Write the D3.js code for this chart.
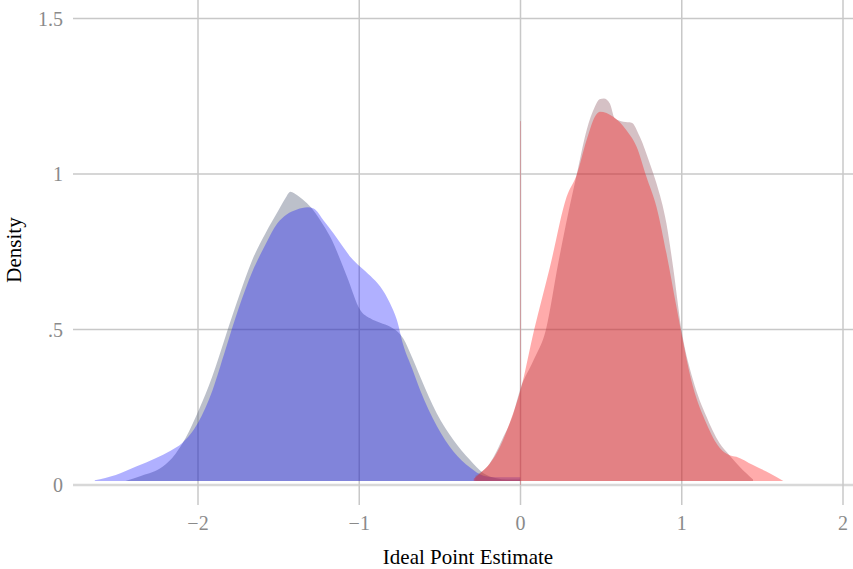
<!DOCTYPE html>
<html>
<head>
<meta charset="utf-8">
<script src="https://cdn.jsdelivr.net/npm/d3@7"></script>
<style>
  body { margin: 0; background: #fff; }
  text { font-family: "Liberation Serif", "Times New Roman", serif; }
</style>
</head>
<body>
<div id="chart"></div>
<script>
// density estimates
const demAllX = [-2.45, -2.35, -2.22, -2.14, -2.077, -1.995, -1.912, -1.83, -1.747, -1.664, -1.582, -1.5, -1.458, -1.427, -1.38, -1.324, -1.30, -1.24, -1.18, -1.076, -0.994, -0.932, -0.87, -0.808, -0.726, -0.672, -0.622, -0.519, -0.416, -0.313, -0.23, -0.15, -0.08, 0];
const demAllY = [0.013, 0.03, 0.059, 0.1, 0.151, 0.241, 0.348, 0.477, 0.605, 0.723, 0.809, 0.884, 0.922, 0.943, 0.93, 0.906, 0.893, 0.85, 0.798, 0.67, 0.563, 0.536, 0.522, 0.509, 0.47, 0.41, 0.348, 0.23, 0.145, 0.08, 0.038, 0.022, 0.018, 0.018];

const demSubX = [-2.64, -2.51, -2.38, -2.263, -2.17, -2.098, -2.0, -1.91, -1.83, -1.75, -1.664, -1.58, -1.51, -1.45, -1.386, -1.32, -1.283, -1.22, -1.159, -1.1, -1.056, -0.994, -0.93, -0.87, -0.81, -0.767, -0.727, -0.672, -0.622, -0.519, -0.416, -0.313, -0.23, -0.15, -0.08, 0];
const demSubY = [0.015, 0.032, 0.06, 0.086, 0.11, 0.135, 0.2, 0.305, 0.435, 0.565, 0.685, 0.775, 0.84, 0.87, 0.886, 0.893, 0.889, 0.85, 0.809, 0.765, 0.734, 0.702, 0.672, 0.638, 0.585, 0.531, 0.45, 0.375, 0.305, 0.19, 0.108, 0.056, 0.03, 0.025, 0.025, 0.025];

const repAllX = [-0.28, -0.19, -0.106, -0.05, 0, 0.08, 0.158, 0.234, 0.296, 0.348, 0.41, 0.461, 0.49, 0.517, 0.554, 0.585, 0.637, 0.689, 0.74, 0.802, 0.843, 0.905, 0.946, 0.998, 1.07, 1.153, 1.235, 1.297, 1.359, 1.442];
const repAllY = [0.03, 0.07, 0.155, 0.22, 0.31, 0.40, 0.5, 0.713, 0.874, 0.997, 1.141, 1.216, 1.24, 1.243, 1.227, 1.179, 1.168, 1.165, 1.12, 1.034, 0.97, 0.841, 0.702, 0.5, 0.338, 0.22, 0.134, 0.095, 0.059, 0.018];

const repSubX = [-0.29, -0.25, -0.189, -0.127, -0.06, 0, 0.085, 0.183, 0.286, 0.348, 0.41, 0.461, 0.492, 0.575, 0.657, 0.72, 0.781, 0.843, 0.905, 0.967, 0.998, 1.07, 1.153, 1.235, 1.297, 1.339, 1.442, 1.545, 1.63];
const repSubY = [0.02, 0.038, 0.07, 0.123, 0.21, 0.305, 0.5, 0.702, 0.927, 0.997, 1.109, 1.184, 1.2, 1.184, 1.141, 1.088, 0.991, 0.895, 0.745, 0.573, 0.488, 0.316, 0.198, 0.12, 0.096, 0.091, 0.064, 0.038, 0.013];

// stray spike at zero in the original
const zeroSpike = [1.17];

const xTicks = [-2, -1, 0, 1, 2];
const xTickLabels = ["\u22122", "\u22121", "0", "1", "2"];
const yTicks = [0, 0.5, 1, 1.5];
const yTickLabels = ["0", ".5", "1", "1.5"];

const width = 853;
const height = 569;
const plotLeft = 73;
const plotRight = 853;
const areaBase = 0.013;

const svg = d3.select("#chart")
  .append("svg")
  .attr("width", width)
  .attr("height", height);

// scales
const x = d3.scaleLinear().domain([-2, 2]).range([198, 843]);
const y = d3.scaleLinear().domain([0, 1.5]).range([485, 18.5]);

// grid
svg.append("g")
  .selectAll("line")
  .data(yTicks).enter()
  .append("line")
  .attr("x1", plotLeft)
  .attr("x2", plotRight)
  .attr("y1", d => y(d))
  .attr("y2", d => y(d))
  .attr("stroke", d => d === 0 ? "#d8d8d8" : "#c8c8c8")
  .attr("stroke-width", d => d === 0 ? 2.5 : 1.5);

svg.append("g")
  .selectAll("line")
  .data(xTicks).enter()
  .append("line")
  .attr("x1", d => x(d))
  .attr("x2", d => x(d))
  .attr("y1", 0)
  .attr("y2", 505)
  .attr("stroke", "#c8c8c8")
  .attr("stroke-width", 1.5);

// densities
function zip(xs, ys) {
  return xs.map((v, i) => [v, ys[i]]);
}

const area = d3.area()
  .curve(d3.curveMonotoneX)
  .x(d => x(d[0]))
  .y0(y(areaBase))
  .y1(d => y(d[1]));

const series = [
  { pts: zip(demAllX, demAllY), fill: "rgba(88,98,123,0.4)" },
  { pts: zip(demSubX, demSubY), fill: "rgba(0,0,255,0.31)" },
  { pts: zip(repAllX, repAllY), fill: "rgba(150,100,110,0.4)" },
  { pts: zip(repSubX, repSubY), fill: "rgba(255,0,0,0.33)" }
];

svg.append("g")
  .selectAll("path")
  .data(series).enter()
  .append("path")
  .attr("d", d => area(d.pts))
  .attr("fill", d => d.fill);

svg.append("g")
  .selectAll("line")
  .data(zeroSpike).enter()
  .append("line")
  .attr("x1", x(0))
  .attr("x2", x(0))
  .attr("y1", y(0))
  .attr("y2", d => y(d))
  .attr("stroke", "rgba(210,90,100,0.4)")
  .attr("stroke-width", 1);

// tick labels
svg.append("g")
  .selectAll("text")
  .data(yTicks).enter()
  .append("text")
  .attr("x", 63)
  .attr("y", d => y(d))
  .attr("dy", "0.35em")
  .attr("text-anchor", "end")
  .attr("fill", "#8a8a8a")
  .style("font-size", "20px")
  .text((d, i) => yTickLabels[i]);

svg.append("g")
  .selectAll("text")
  .data(xTicks).enter()
  .append("text")
  .attr("x", d => x(d))
  .attr("y", 530)
  .attr("text-anchor", "middle")
  .attr("fill", "#8a8a8a")
  .style("font-size", "20px")
  .text((d, i) => xTickLabels[i]);

// axis titles
svg.append("text")
  .attr("x", 468)
  .attr("y", 564)
  .attr("text-anchor", "middle")
  .attr("fill", "#000")
  .style("font-size", "21px")
  .text("Ideal Point Estimate");

svg.append("text")
  .attr("transform", "translate(21,250) rotate(-90)")
  .attr("text-anchor", "middle")
  .attr("fill", "#000")
  .style("font-size", "21px")
  .text("Density");
</script>
</body>
</html>
